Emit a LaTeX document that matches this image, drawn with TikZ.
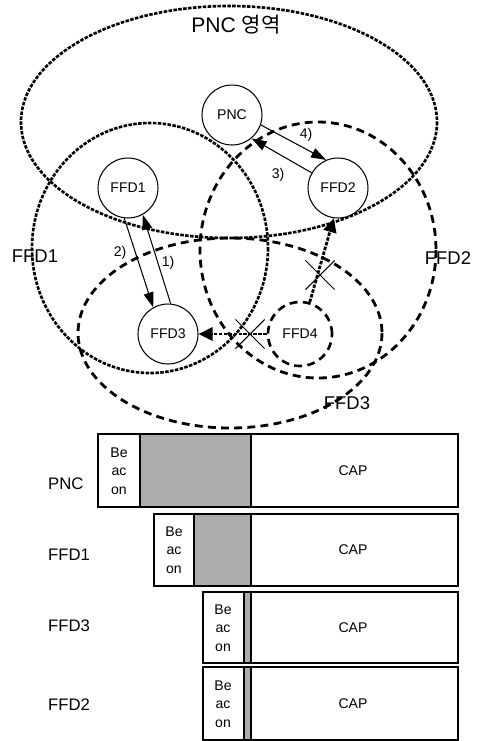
\documentclass[tikz,border=0pt]{standalone}
\usepackage{fontspec}
\setmainfont{Liberation Sans}
\newfontfamily\krfont{Noto Sans CJK KR}
\usetikzlibrary{arrows.meta,shapes.misc}

\begin{document}
\begin{tikzpicture}[
  x=0.02cm, y=-0.02cm,
  station/.style={circle,draw=black,line width=0.6pt,minimum size=12mm,
                  inner sep=0pt,font=\fontsize{8}{9}\selectfont},
  newcomer/.style={station,line width=1.5pt,dash pattern=on 4.5pt off 3pt,
                   minimum size=12.8mm},
  dotarea/.style={line width=1.5pt,dash pattern=on 2pt off 0.8pt},
  dasharea/.style={line width=1.6pt,dash pattern=on 4.5pt off 3pt},
  msg/.style={-{Triangle[length=3mm,width=2mm]},line width=0.6pt},
  lost/.style={-{Triangle[length=2.8mm,width=2.6mm]},line width=1.6pt,
               dash pattern=on 2pt off 0.8pt},
  xmark/.style={cross out,draw=black,line width=0.6pt,minimum size=5.6mm,
                inner sep=0pt},
  step lbl/.style={font=\fontsize{8}{9}\selectfont},
  area lbl/.style={font=\fontsize{10.5}{12}\selectfont},
  row lbl/.style={font=\fontsize{9.5}{11}\selectfont,anchor=west},
  slot/.style={draw=black,line width=0.8pt},
  busy/.style={slot,fill=gray!65},
  beacon/.style={align=center,font=\fontsize{8}{10.5}\selectfont},
  caplbl/.style={font=\fontsize{8}{9}\selectfont}
]
\useasboundingbox (0,0) rectangle (479,741);

% coverage areas
\coordinate (pncarea) at (229,122);
\coordinate (ffd1area) at (150,248);
\coordinate (ffd2area) at (318,250);
\coordinate (ffd3area) at (230,333);
\draw[dotarea] (pncarea) ellipse [x radius=208,y radius=116];
\draw[dotarea] (ffd1area) ellipse [x radius=118,y radius=125];
\draw[dasharea] (ffd2area) ellipse [x radius=118,y radius=128];
\draw[dasharea] (ffd3area) ellipse [x radius=152,y radius=95];

\node[font=\fontsize{12}{14}\selectfont] (pnctitle) at (236,25)
  {PNC {\krfont 영역}};
\node[area lbl] (ffd1name) at (35,256) {FFD1};
\node[area lbl] (ffd2name) at (448,258) {FFD2};
\node[area lbl] (ffd3name) at (347,403) {FFD3};

% devices
\node[station,fill=white] (pnc) at (232,115) {PNC};
\node[station,fill=white] (ffd1) at (128,188) {FFD1};
\node[station,fill=white] (ffd2) at (338,188) {FFD2};
\node[station,fill=white] (ffd3) at (168,334) {FFD3};
\node[newcomer] (ffd4) at (300,334) {FFD4};

% association steps
\draw[msg] (ffd3.85) -- (ffd1.-61);
\draw[msg] (ffd1.-97) -- (ffd3.119);
\draw[msg] (ffd2.150) -- (pnc.-50);
\draw[msg] (pnc.-19) -- (ffd2.113);
\node[step lbl] (s1) at (168,263) {1)};
\node[step lbl] (s2) at (120,253) {2)};
\node[step lbl] (s3) at (278,175) {3)};
\node[step lbl] (s4) at (306,135) {4)};

% FFD4 cannot reach
\draw[lost] (ffd4.west) -- (ffd3.east);
\draw[lost] (ffd4.73) -- (ffd2.-98);
\node[xmark] (xa) at (250,334) {};
\node[xmark] (xb) at (320,275) {};

% superframes
\fill[busy] (140,434) rectangle (251,507);
\fill[busy] (194,514) rectangle (251,586);
\fill[busy] (244,592) rectangle (251,663);
\fill[busy] (244,667) rectangle (251,740);

\draw[slot] (98,434) rectangle (458,507);
\draw[slot] (140,434) -- (140,507);
\draw[slot] (251,434) -- (251,507);
\draw[slot] (154,514) rectangle (458,586);
\draw[slot] (194,514) -- (194,586);
\draw[slot] (251,514) -- (251,586);
\draw[slot] (203,592) rectangle (458,663);
\draw[slot] (244,592) -- (244,663);
\draw[slot] (251,592) -- (251,663);
\draw[slot] (203,667) rectangle (458,740);
\draw[slot] (244,667) -- (244,740);
\draw[slot] (251,667) -- (251,740);

\node[row lbl] (rpnc) at (42,484) {PNC};
\node[row lbl] (rffd1) at (42,555) {FFD1};
\node[row lbl] (rffd3) at (42,626) {FFD3};
\node[row lbl] (rffd2) at (42,705) {FFD2};

\node[beacon] (bpnc) at (119,471) {Be\\ac\\on};
\node[beacon] (bffd1) at (174,550) {Be\\ac\\on};
\node[beacon] (bffd3) at (223,628) {Be\\ac\\on};
\node[beacon] (bffd2) at (223,704) {Be\\ac\\on};

\node[caplbl] (cpnc) at (353,471) {CAP};
\node[caplbl] (cffd1) at (353,550) {CAP};
\node[caplbl] (cffd3) at (353,628) {CAP};
\node[caplbl] (cffd2) at (353,704) {CAP};
\end{tikzpicture}
\end{document}
